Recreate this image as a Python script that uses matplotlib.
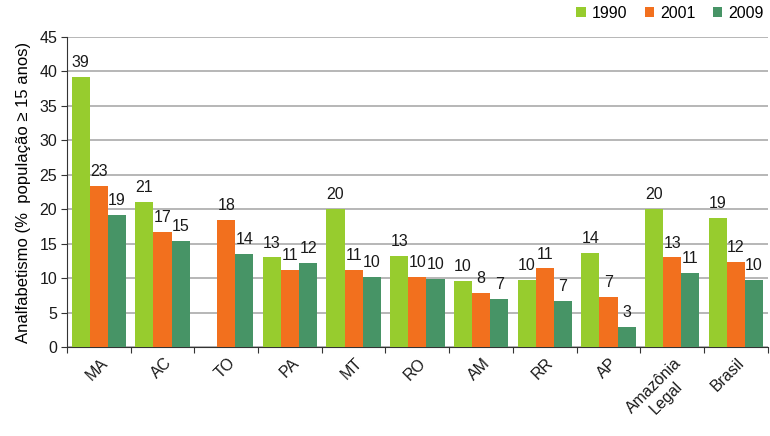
import matplotlib
matplotlib.use("Agg")
import matplotlib.pyplot as plt
import numpy as np

categories = ["MA", "AC", "TO", "PA", "MT", "RO", "AM", "RR", "AP", "Amazônia\nLegal", "Brasil"]
v1990 = [39.2, 21.0, np.nan, 13.0, 20.0, 13.2, 9.6, 9.7, 13.7, 20.0, 18.7]
v2001 = [23.4, 16.7, 18.5, 11.2, 11.2, 10.2, 7.9, 11.4, 7.2, 13.0, 12.3]
v2009 = [19.2, 15.4, 13.5, 12.2, 10.2, 9.9, 7.0, 6.7, 2.9, 10.8, 9.7]
series_names = ["1990", "2001", "2009"]
colors = ["#97CC2E", "#F2701E", "#479466"]
ylabel = "Analfabetismo (%  população \u2265 15 anos)"

plt.rcParams['font.family'] = ['Liberation Sans', 'DejaVu Sans']

fig = plt.figure(figsize=(7.7, 4.36), dpi=100)
ax = fig.add_axes([0.087, 0.2041, 0.910, 0.711])

x = np.arange(len(categories))
w = 0.285
for i, (vals, name, c) in enumerate(zip([v1990, v2001, v2009], series_names, colors)):
    xs = x + (i - 1) * w
    ax.bar(xs, vals, width=w, color=c, label=name, zorder=3)
    for xi, v in zip(xs, vals):
        if not np.isnan(v):
            ax.annotate("%d" % int(round(v)), (xi, v), xytext=(0, 5), textcoords="offset points",
                        ha="center", va="bottom", fontsize=11.5, color="#1a1a1a", zorder=4)

ax.set_xlim(-0.5, len(categories) - 0.5)
ax.set_ylim(0, 45)
ax.set_yticks(np.arange(0, 46, 5))
ax.yaxis.grid(True, color="#AAAAAA", linewidth=1.2, zorder=0)
ax.set_axisbelow(True)
for s in ["top", "right"]:
    ax.spines[s].set_visible(False)
ax.spines["left"].set_color("#333333")
ax.spines["bottom"].set_color("#333333")
ax.tick_params(axis="y", direction="out", length=4, labelsize=11.5, colors="#333333",
               labelcolor="#1a1a1a", pad=3)

# boundary ticks and category labels
ax.set_xticks(np.arange(-0.5, len(categories) + 0.5, 1.0))
ax.set_xticklabels([])
ax.tick_params(axis="x", direction="out", length=4, colors="#333333")
ax.set_xticks(x + 0.02, minor=True)
ax.set_xticklabels(categories, minor=True, rotation=45, ha="right", rotation_mode="anchor",
                   fontsize=11.5, multialignment="center")
ax.tick_params(axis="x", which="minor", length=0, pad=6, labelcolor="#1a1a1a")

ax.set_ylabel(ylabel, fontsize=12, labelpad=6)

fig.legend(loc="upper right", bbox_to_anchor=(1.01, 1.02), ncol=3, frameon=False,
           fontsize=11.5, handlelength=0.6, handleheight=0.6, handletextpad=0.35,
           columnspacing=1.1)

fig.savefig("out.png", dpi=100)
